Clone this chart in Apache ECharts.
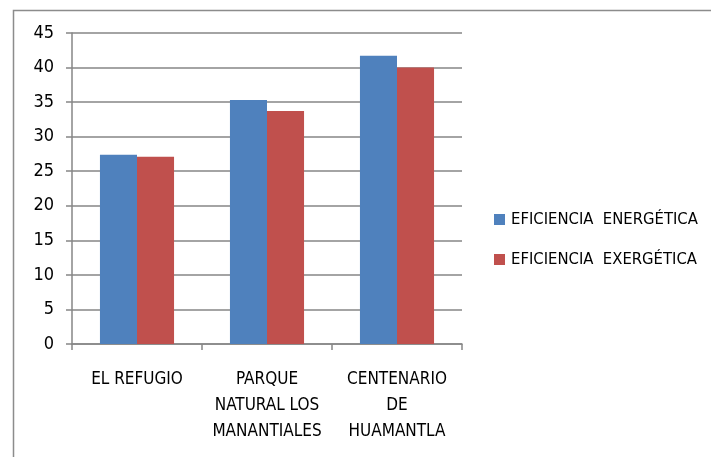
<!DOCTYPE html>
<html><head><meta charset="utf-8">
<script src="https://cdn.jsdelivr.net/npm/echarts@6/dist/echarts.min.js"></script>
<style>html,body{margin:0;padding:0;background:#fff}#c{width:711px;height:457px}</style>
</head><body><div id="c"></div>
<script>
const categories = ['EL REFUGIO', 'PARQUE\nNATURAL LOS\nMANANTIALES', 'CENTENARIO\nDE\nHUAMANTLA'];
const seriesNames = ['EFICIENCIA  ENERGÉTICA', 'EFICIENCIA  EXERGÉTICA'];
const energetica = [27.4, 35.3, 41.7];
const exergetica = [27.1, 33.7, 40.0];
const yTicks = {min: 0, max: 45, interval: 5};

const font = '"Liberation Sans Narrow", "DejaVu Sans Condensed", "Liberation Sans", sans-serif';
const chart = echarts.init(document.getElementById('c'), null, {renderer: 'canvas'});
chart.setOption({
  animation: false,
  backgroundColor: '#fff',
  graphic: [{type: 'rect', shape: {x: 13.5, y: 10.5, width: 800, height: 600},
    style: {fill: 'none', stroke: '#8c8c8c', lineWidth: 1.5}, silent: true}],
  grid: {left: 72, top: 33, width: 390, height: 311, containLabel: false},
  legend: {
    orient: 'vertical', left: 489, top: 206, itemWidth: 11, itemHeight: 11, itemGap: 23,
    icon: 'rect',
    textStyle: {fontFamily: font, fontSize: 16.5, color: '#000', padding: [0, 0, 0, 1]},
    data: seriesNames
  },
  xAxis: {
    type: 'category', data: categories,
    axisLine: {lineStyle: {color: '#868686', width: 1.5}},
    axisTick: {show: true, length: 6, lineStyle: {color: '#868686', width: 1.5}},
    axisLabel: {fontFamily: font, fontSize: 17, color: '#000', margin: 23, lineHeight: 26, interval: 0}
  },
  yAxis: {
    type: 'value', min: yTicks.min, max: yTicks.max, interval: yTicks.interval,
    axisLine: {show: true, lineStyle: {color: '#868686', width: 1.5}},
    axisTick: {show: true, length: 6, lineStyle: {color: '#868686', width: 1.5}},
    splitLine: {lineStyle: {color: '#868686', width: 1.5}},
    axisLabel: {fontFamily: font, fontSize: 18, color: '#000', margin: 18}
  },
  series: [
    {name: seriesNames[0], type: 'bar', data: energetica, barGap: 0, barCategoryGap: '43%',
     itemStyle: {color: '#4f81bd'}},
    {name: seriesNames[1], type: 'bar', data: exergetica, barGap: 0, barCategoryGap: '43%',
     itemStyle: {color: '#c0504d'}}
  ]
});
</script></body></html>
